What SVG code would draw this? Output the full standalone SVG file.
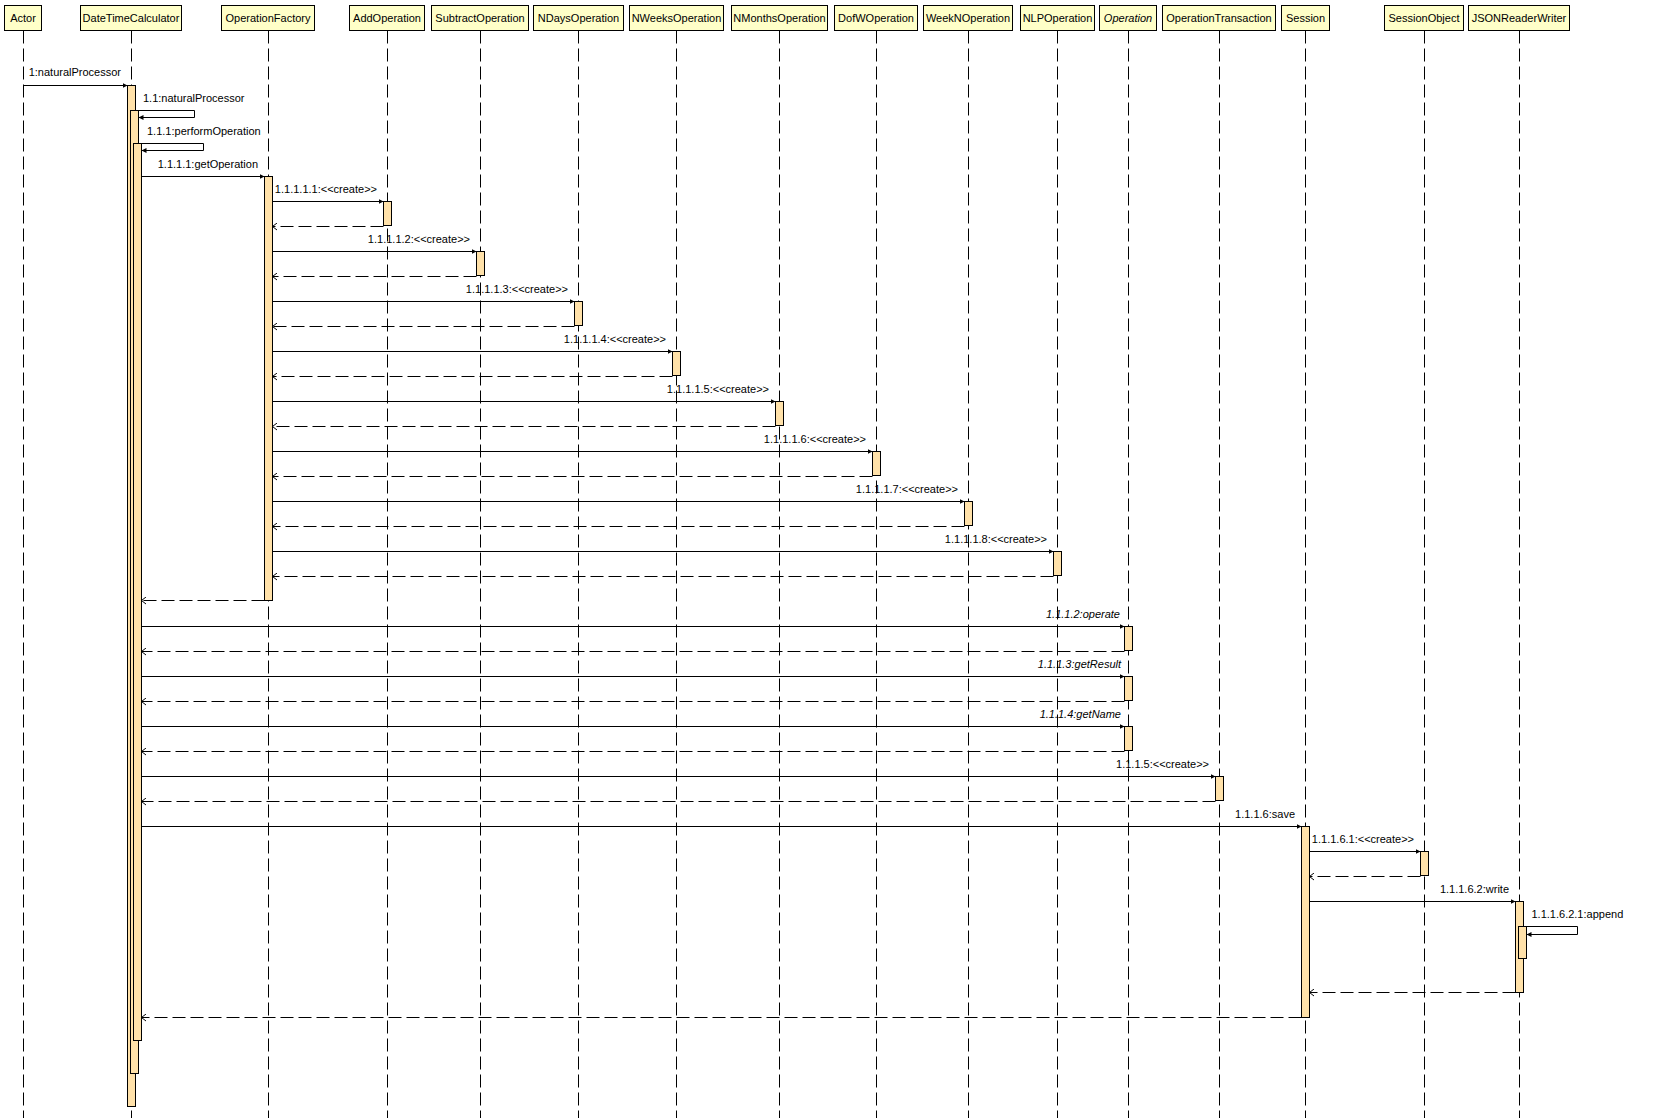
<svg xmlns="http://www.w3.org/2000/svg" width="1676" height="1118" viewBox="0 0 1676 1118">
<style>
.hd{fill:#FFFFC8;stroke:#000;stroke-width:1}
.ll{stroke:#000;stroke-width:1;stroke-dasharray:13,5;fill:none}
.act{fill:#FFE1A9;stroke:#000;stroke-width:1}
.t{font-family:"Liberation Sans",Arial,sans-serif;font-size:11px;fill:#000}
.tc{text-anchor:middle}
.te{text-anchor:end}
.it{font-style:italic}
.msg{stroke:#000;stroke-width:1;fill:none;marker-end:url(#sync)}
.ret{stroke:#000;stroke-width:1;fill:none;stroke-dasharray:13,5;marker-end:url(#open)}
</style>
<defs>
<marker id="sync" markerUnits="userSpaceOnUse" markerWidth="6" markerHeight="6" refX="5" refY="3" orient="auto">
<path d="M0,0.5 L5,3 L0,5.5 z" fill="#000"/>
</marker>
<marker id="open" markerUnits="userSpaceOnUse" markerWidth="7" markerHeight="8" refX="5" refY="4" orient="auto">
<path d="M0.5,0.5 L5,4 L0.5,7.5" fill="none" stroke="#000" stroke-width="1"/>
</marker>
</defs>
<rect width="1676" height="1118" fill="#fff"/>

<g id="Actor">
<line class="ll" x1="23.5" y1="30.5" x2="23.5" y2="1118"/>
<rect class="hd" x="4.5" y="5.5" width="37" height="25"/>
<text class="t tc" x="23" y="21.5">Actor</text>
</g>
<g id="DateTimeCalculator">
<line class="ll" x1="131.5" y1="30.5" x2="131.5" y2="1118"/>
<rect class="hd" x="80.5" y="5.5" width="101" height="25"/>
<text class="t tc" x="131" y="21.5">DateTimeCalculator</text>
<rect class="act" x="127.5" y="85.5" width="8" height="1021"/>
<rect class="act" x="130.5" y="110.5" width="8" height="963"/>
<rect class="act" x="133.5" y="143.5" width="8" height="897"/>
</g>
<g id="OperationFactory">
<line class="ll" x1="268.5" y1="30.5" x2="268.5" y2="1118"/>
<rect class="hd" x="221.5" y="5.5" width="93" height="25"/>
<text class="t tc" x="268" y="21.5">OperationFactory</text>
<rect class="act" x="264.5" y="176.5" width="8" height="424"/>
</g>
<g id="AddOperation">
<line class="ll" x1="387.5" y1="30.5" x2="387.5" y2="1118"/>
<rect class="hd" x="349.5" y="5.5" width="75" height="25"/>
<text class="t tc" x="387" y="21.5">AddOperation</text>
<rect class="act" x="383.5" y="201.5" width="8" height="24"/>
</g>
<g id="SubtractOperation">
<line class="ll" x1="480.5" y1="30.5" x2="480.5" y2="1118"/>
<rect class="hd" x="431.5" y="5.5" width="97" height="25"/>
<text class="t tc" x="480" y="21.5">SubtractOperation</text>
<rect class="act" x="476.5" y="251.5" width="8" height="24"/>
</g>
<g id="NDaysOperation">
<line class="ll" x1="578.5" y1="30.5" x2="578.5" y2="1118"/>
<rect class="hd" x="533.5" y="5.5" width="90" height="25"/>
<text class="t tc" x="578.5" y="21.5">NDaysOperation</text>
<rect class="act" x="574.5" y="301.5" width="8" height="24"/>
</g>
<g id="NWeeksOperation">
<line class="ll" x1="676.5" y1="30.5" x2="676.5" y2="1118"/>
<rect class="hd" x="629.5" y="5.5" width="94" height="25"/>
<text class="t tc" x="676.5" y="21.5">NWeeksOperation</text>
<rect class="act" x="672.5" y="351.5" width="8" height="24"/>
</g>
<g id="NMonthsOperation">
<line class="ll" x1="779.5" y1="30.5" x2="779.5" y2="1118"/>
<rect class="hd" x="731.5" y="5.5" width="96" height="25"/>
<text class="t tc" x="779.5" y="21.5">NMonthsOperation</text>
<rect class="act" x="775.5" y="401.5" width="8" height="24"/>
</g>
<g id="DofWOperation">
<line class="ll" x1="876.5" y1="30.5" x2="876.5" y2="1118"/>
<rect class="hd" x="834.5" y="5.5" width="83" height="25"/>
<text class="t tc" x="876" y="21.5">DofWOperation</text>
<rect class="act" x="872.5" y="451.5" width="8" height="24"/>
</g>
<g id="WeekNOperation">
<line class="ll" x1="968.5" y1="30.5" x2="968.5" y2="1118"/>
<rect class="hd" x="923.5" y="5.5" width="89" height="25"/>
<text class="t tc" x="968" y="21.5">WeekNOperation</text>
<rect class="act" x="964.5" y="501.5" width="8" height="24"/>
</g>
<g id="NLPOperation">
<line class="ll" x1="1057.5" y1="30.5" x2="1057.5" y2="1118"/>
<rect class="hd" x="1020.5" y="5.5" width="74" height="25"/>
<text class="t tc" x="1057.5" y="21.5">NLPOperation</text>
<rect class="act" x="1053.5" y="551.5" width="8" height="24"/>
</g>
<g id="Operation">
<line class="ll" x1="1128.5" y1="30.5" x2="1128.5" y2="1118"/>
<rect class="hd" x="1099.5" y="5.5" width="57" height="25"/>
<text class="t tc it" x="1128" y="21.5">Operation</text>
<rect class="act" x="1124.5" y="626.5" width="8" height="24"/>
<rect class="act" x="1124.5" y="676.5" width="8" height="24"/>
<rect class="act" x="1124.5" y="726.5" width="8" height="24"/>
</g>
<g id="OperationTransaction">
<line class="ll" x1="1219.5" y1="30.5" x2="1219.5" y2="1118"/>
<rect class="hd" x="1162.5" y="5.5" width="113" height="25"/>
<text class="t tc" x="1219" y="21.5">OperationTransaction</text>
<rect class="act" x="1215.5" y="776.5" width="8" height="24"/>
</g>
<g id="Session">
<line class="ll" x1="1305.5" y1="30.5" x2="1305.5" y2="1118"/>
<rect class="hd" x="1281.5" y="5.5" width="48" height="25"/>
<text class="t tc" x="1305.5" y="21.5">Session</text>
<rect class="act" x="1301.5" y="826.5" width="8" height="191"/>
</g>
<g id="SessionObject">
<line class="ll" x1="1424.5" y1="30.5" x2="1424.5" y2="1118"/>
<rect class="hd" x="1384.5" y="5.5" width="79" height="25"/>
<text class="t tc" x="1424" y="21.5">SessionObject</text>
<rect class="act" x="1420.5" y="851.5" width="8" height="24"/>
</g>
<g id="JSONReaderWriter">
<line class="ll" x1="1519.5" y1="30.5" x2="1519.5" y2="1118"/>
<rect class="hd" x="1468.5" y="5.5" width="101" height="25"/>
<text class="t tc" x="1519" y="21.5">JSONReaderWriter</text>
<rect class="act" x="1515.5" y="901.5" width="8" height="91"/>
<rect class="act" x="1518.5" y="926.5" width="8" height="32"/>
</g>

<g id="connectors">
<line class="msg" x1="23.5" y1="85.5" x2="127.5" y2="85.5"/>
<text class="t te" x="121" y="76">1:naturalProcessor</text>
<path class="msg" d="M135.5,110.5 H194.5 V117.5 H138.5"/>
<text class="t" x="143" y="101.5">1.1:naturalProcessor</text>
<path class="msg" d="M138.5,143.5 H203.5 V150.5 H141.5"/>
<text class="t" x="147" y="135">1.1.1:performOperation</text>
<line class="msg" x1="141.5" y1="176.5" x2="264.5" y2="176.5"/>
<text class="t te" x="258" y="168">1.1.1.1:getOperation</text>

<line class="msg" x1="272.5" y1="201.5" x2="383.5" y2="201.5"/>
<text class="t te" x="377" y="192.5">1.1.1.1.1:&lt;&lt;create&gt;&gt;</text>
<line class="ret" x1="383.5" y1="226.5" x2="272.5" y2="226.5"/>
<line class="msg" x1="272.5" y1="251.5" x2="476.5" y2="251.5"/>
<text class="t te" x="470" y="242.5">1.1.1.1.2:&lt;&lt;create&gt;&gt;</text>
<line class="ret" x1="476.5" y1="276.5" x2="272.5" y2="276.5"/>
<line class="msg" x1="272.5" y1="301.5" x2="574.5" y2="301.5"/>
<text class="t te" x="568" y="292.5">1.1.1.1.3:&lt;&lt;create&gt;&gt;</text>
<line class="ret" x1="574.5" y1="326.5" x2="272.5" y2="326.5"/>
<line class="msg" x1="272.5" y1="351.5" x2="672.5" y2="351.5"/>
<text class="t te" x="666" y="342.5">1.1.1.1.4:&lt;&lt;create&gt;&gt;</text>
<line class="ret" x1="672.5" y1="376.5" x2="272.5" y2="376.5"/>
<line class="msg" x1="272.5" y1="401.5" x2="775.5" y2="401.5"/>
<text class="t te" x="769" y="392.5">1.1.1.1.5:&lt;&lt;create&gt;&gt;</text>
<line class="ret" x1="775.5" y1="426.5" x2="272.5" y2="426.5"/>
<line class="msg" x1="272.5" y1="451.5" x2="872.5" y2="451.5"/>
<text class="t te" x="866" y="442.5">1.1.1.1.6:&lt;&lt;create&gt;&gt;</text>
<line class="ret" x1="872.5" y1="476.5" x2="272.5" y2="476.5"/>
<line class="msg" x1="272.5" y1="501.5" x2="964.5" y2="501.5"/>
<text class="t te" x="958" y="492.5">1.1.1.1.7:&lt;&lt;create&gt;&gt;</text>
<line class="ret" x1="964.5" y1="526.5" x2="272.5" y2="526.5"/>
<line class="msg" x1="272.5" y1="551.5" x2="1053.5" y2="551.5"/>
<text class="t te" x="1047" y="542.5">1.1.1.1.8:&lt;&lt;create&gt;&gt;</text>
<line class="ret" x1="1053.5" y1="576.5" x2="272.5" y2="576.5"/>
<line class="ret" x1="264.5" y1="600.5" x2="141.5" y2="600.5"/>

<line class="msg" x1="141.5" y1="626.5" x2="1124.5" y2="626.5"/>
<text class="t te it" x="1120" y="617.5">1.1.1.2:operate</text>
<line class="ret" x1="1124.5" y1="651.5" x2="141.5" y2="651.5"/>
<line class="msg" x1="141.5" y1="676.5" x2="1124.5" y2="676.5"/>
<text class="t te it" x="1121" y="667.5">1.1.1.3:getResult</text>
<line class="ret" x1="1124.5" y1="701.5" x2="141.5" y2="701.5"/>
<line class="msg" x1="141.5" y1="726.5" x2="1124.5" y2="726.5"/>
<text class="t te it" x="1121" y="717.5">1.1.1.4:getName</text>
<line class="ret" x1="1124.5" y1="751.5" x2="141.5" y2="751.5"/>
<line class="msg" x1="141.5" y1="776.5" x2="1215.5" y2="776.5"/>
<text class="t te" x="1209" y="767.5">1.1.1.5:&lt;&lt;create&gt;&gt;</text>
<line class="ret" x1="1215.5" y1="801.5" x2="141.5" y2="801.5"/>
<line class="msg" x1="141.5" y1="826.5" x2="1301.5" y2="826.5"/>
<text class="t te" x="1295" y="817.5">1.1.1.6:save</text>

<line class="msg" x1="1309.5" y1="851.5" x2="1420.5" y2="851.5"/>
<text class="t te" x="1414" y="842.5">1.1.1.6.1:&lt;&lt;create&gt;&gt;</text>
<line class="ret" x1="1420.5" y1="876.5" x2="1309.5" y2="876.5"/>
<line class="msg" x1="1309.5" y1="901.5" x2="1515.5" y2="901.5"/>
<text class="t te" x="1509" y="892.5">1.1.1.6.2:write</text>
<path class="msg" d="M1523.5,926.5 H1577.5 V934.5 H1526.5"/>
<text class="t" x="1531.5" y="917.5">1.1.1.6.2.1:append</text>
<line class="ret" x1="1515.5" y1="992.5" x2="1309.5" y2="992.5"/>
<line class="ret" x1="1301.5" y1="1017.5" x2="141.5" y2="1017.5"/>
</g>
</svg>
